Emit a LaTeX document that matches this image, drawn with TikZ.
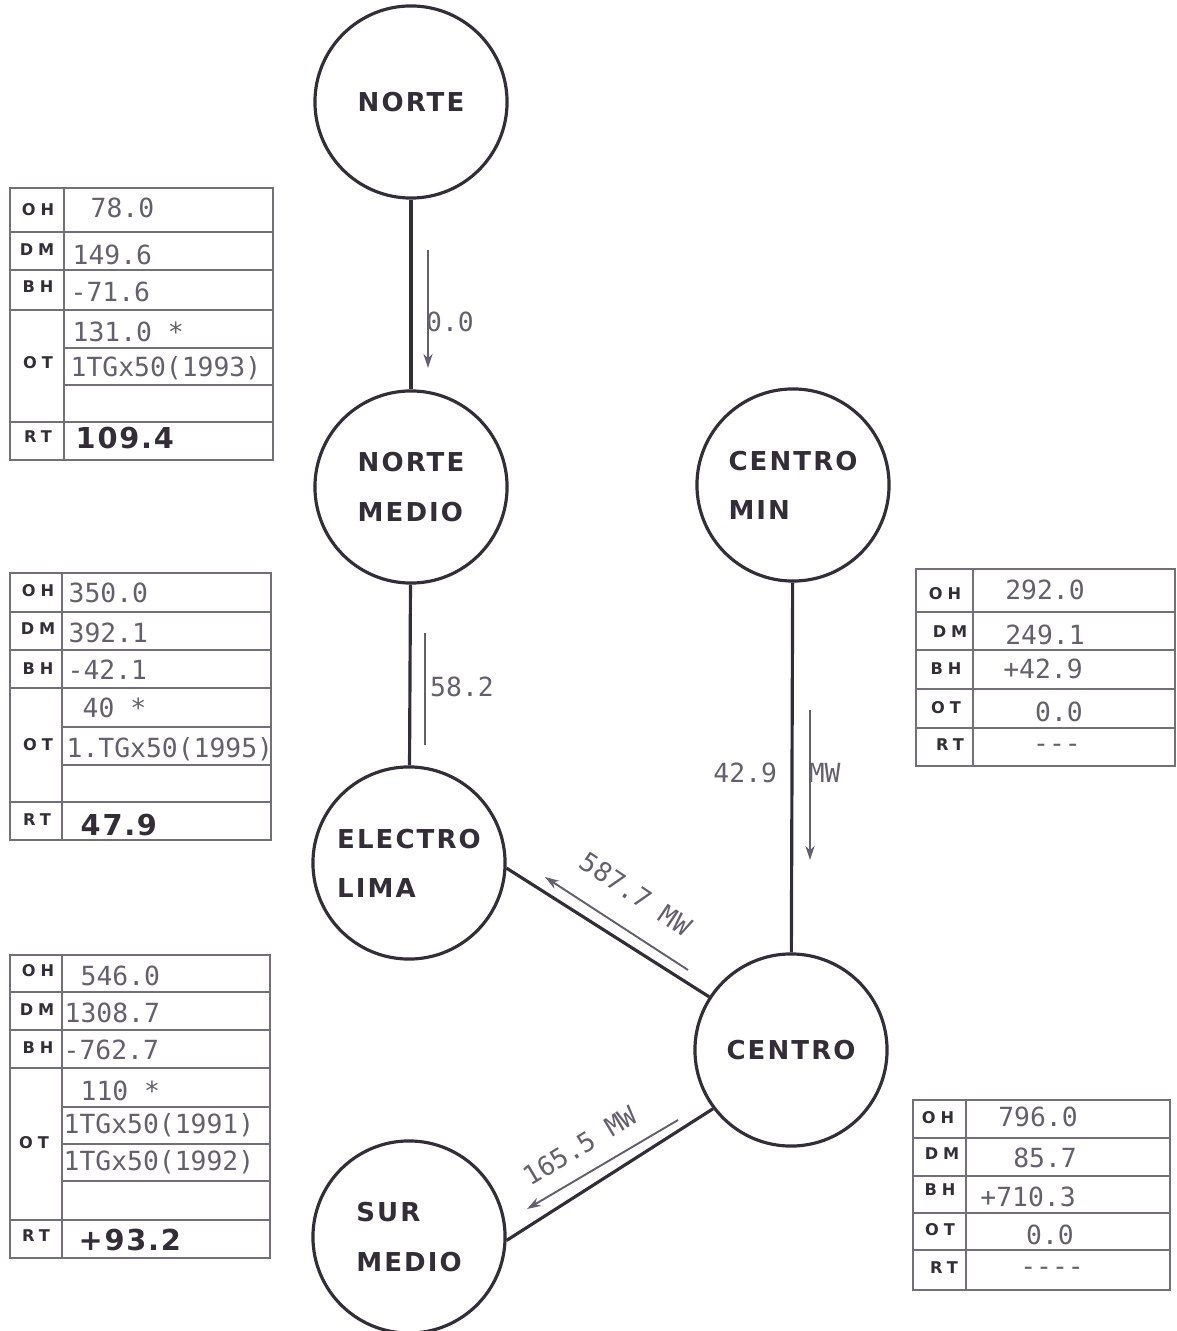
\documentclass[tikz,border=0pt]{standalone}
\usepackage{fontspec}
\usepackage{xcolor}
\usepackage{tikz}
\usetikzlibrary{arrows.meta}

\newfontfamily\numfont{DejaVu Sans Mono}
\newfontfamily\namefont[LetterSpace=8]{DejaVu Sans}
\newfontfamily\tagfont[LetterSpace=30]{DejaVu Sans}
\newfontfamily\rtfont[LetterSpace=6]{DejaVu Sans}

\definecolor{ink}{RGB}{50,45,55}
\definecolor{pen}{RGB}{100,95,108}
\definecolor{rule}{RGB}{115,110,120}

\begin{document}
\begin{tikzpicture}[x=0.01cm, y=-0.01cm,
    zone/.style={circle, draw=ink, line width=0.9pt, minimum size=1.92cm, inner sep=0pt, align=left, text=ink, font=\namefont\bfseries\fontsize{7.4}{14}\selectfont},
    tie/.style={draw=ink, line width=0.9pt},
    flow/.style={draw=pen, line width=0.55pt, -{Stealth[length=4pt,width=2.6pt]}},
    grid/.style={draw=rule, line width=0.7pt},
    val/.style={inner sep=0pt, text=pen, font=\numfont\fontsize{7.5}{9}\selectfont},
    tag/.style={inner sep=0pt, text=ink, font=\tagfont\bfseries\fontsize{4.6}{5}\selectfont},
    rt/.style={inner sep=0pt, text=ink, font=\rtfont\bfseries\fontsize{8.2}{10}\selectfont}]
    \useasboundingbox (0,0) rectangle (1176,1331);

    % zones
    \node (norte) [zone] at (411,102) {NORTE};
    \node (nmedio) [zone] at (411,487) {NORTE\\MEDIO};
    \node (cmin) [zone] at (793,485) {CENTRO\\MIN};
    \node (elima) [zone] at (409,863) {ELECTRO\\LIMA};
    \node (centro) [zone] at (791,1050) {CENTRO};
    \node (sur) [zone] at (409,1237) {SUR\\MEDIO};

    % ties
    \draw[tie] (norte) -- (nmedio);
    \draw[tie] (nmedio) -- (elima);
    \draw[tie] (cmin) -- (centro);
    \draw[tie] (elima.-3) -- (centro.147);
    \draw[tie] (centro.217) -- (sur.-2);

    % flows
    \coordinate (fNa) at (428,250);
    \coordinate (fNb) at (428,368);
    \coordinate (fMa) at (425,633);
    \coordinate (fMb) at (425,745);
    \coordinate (fCa) at (810,710);
    \coordinate (fCb) at (810,860);
    \coordinate (fEa) at (688,970);
    \coordinate (fEb) at (545,877);
    \coordinate (fSa) at (678,1120);
    \coordinate (fSb) at (527,1209);
    \draw[flow] (fNa) -- (fNb);
    \draw[flow, -] (fMa) -- (fMb);
    \draw[flow] (fCa) -- (fCb);
    \draw[flow] (fEa) -- (fEb);
    \draw[flow] (fSa) -- (fSb);
    \node (fNlab) [val] at (450,322) {0.0};
    \node (fMlab) [val] at (462,687) {58.2};
    \node (fClab) [val] at (777,773) {42.9~~MW};
    \node (fElab) [val, rotate=-34] at (636,894) {587.7 MW};
    \node (fSlab) [val, rotate=31] at (580,1146) {165.5 MW};

    % table norte medio
    \draw[grid] (10,188) rectangle (273,460);
    \draw[grid] (64,188) -- (64,460);
    \draw[grid] (10,232) -- (273,232) (10,270) -- (273,270) (10,310) -- (273,310) (10,422) -- (273,422);
    \draw[grid] (64,348) -- (273,348) (64,385) -- (273,385);
    \node (aOH) [tag] at (38,210) {OH};
    \node (aDM) [tag] at (37,250) {DM};
    \node (aBH) [tag] at (38,287) {BH};
    \node (aOT) [tag] at (38,363) {OT};
    \node (aRT) [tag] at (38,437) {RT};
    \node (aOHv) [val, anchor=west] at (90,208) {78.0};
    \node (aDMv) [val, anchor=west] at (72,255) {149.6};
    \node (aBHv) [val, anchor=west] at (70,292) {-71.6};
    \node (aOTv) [val, anchor=west] at (72,332) {131.0 *};
    \node (aOTg) [val, anchor=west] at (70,368) {1TGx50(1993)};
    \node (aRTv) [rt, anchor=west] at (75,438) {109.4};

    % table electro lima
    \draw[grid] (10,573) rectangle (271,840);
    \draw[grid] (62,573) -- (62,840);
    \draw[grid] (10,612) -- (271,612) (10,650) -- (271,650) (10,688) -- (271,688) (10,802) -- (271,802);
    \draw[grid] (62,727) -- (271,727) (62,765) -- (271,765);
    \node (bOH) [tag] at (38,591) {OH};
    \node (bDM) [tag] at (38,629) {DM};
    \node (bBH) [tag] at (38,669) {BH};
    \node (bOT) [tag] at (38,745) {OT};
    \node (bRT) [tag] at (37,820) {RT};
    \node (bOHv) [val, anchor=west] at (68,593) {350.0};
    \node (bDMv) [val, anchor=west] at (68,633) {392.1};
    \node (bBHv) [val, anchor=west] at (67,670) {-42.1};
    \node (bOTv) [val, anchor=west] at (82,708) {40 *};
    \node (bOTg) [val, anchor=west] at (66,749) {1.TGx50(1995)};
    \node (bRTv) [rt, anchor=west] at (80,825) {47.9};

    % table sur medio
    \draw[grid] (10,955) rectangle (270,1258);
    \draw[grid] (62,955) -- (62,1258);
    \draw[grid] (10,992) -- (270,992) (10,1030) -- (270,1030) (10,1068) -- (270,1068) (10,1220) -- (270,1220);
    \draw[grid] (62,1107) -- (270,1107) (62,1144) -- (270,1144) (62,1181) -- (270,1181);
    \node (cOH) [tag] at (38,971) {OH};
    \node (cDM) [tag] at (37,1010) {DM};
    \node (cBH) [tag] at (38,1048) {BH};
    \node (cOT) [tag] at (34,1143) {OT};
    \node (cRT) [tag] at (36,1236) {RT};
    \node (cOHv) [val, anchor=west] at (80,976) {546.0};
    \node (cDMv) [val, anchor=west] at (64,1013) {1308.7};
    \node (cBHv) [val, anchor=west] at (63,1050) {-762.7};
    \node (cOTv) [val, anchor=west] at (80,1091) {110 *};
    \node (cOTg) [val, anchor=west] at (63,1125) {1TGx50(1991)};
    \node (cOTh) [val, anchor=west] at (63,1162) {1TGx50(1992)};
    \node (cRTv) [rt, anchor=west] at (78,1240) {+93.2};

    % table centro min
    \draw[grid] (916,569) rectangle (1175,766);
    \draw[grid] (973,569) -- (973,766);
    \draw[grid] (916,612) -- (1175,612) (916,650) -- (1175,650) (916,689) -- (1175,689) (916,728) -- (1175,728);
    \node (dOH) [tag] at (945,594) {OH};
    \node (dDM) [tag] at (950,632) {DM};
    \node (dBH) [tag] at (946,669) {BH};
    \node (dOT) [tag] at (946,708) {OT};
    \node (dRT) [tag] at (950,745) {RT};
    \node (dOHv) [val] at (1045,590) {292.0};
    \node (dDMv) [val] at (1045,635) {249.1};
    \node (dBHv) [val] at (1043,669) {+42.9};
    \node (dOTv) [val] at (1059,712) {0.0};
    \node (dRTv) [val] at (1057,748) {-{}-{}-};

    % table centro
    \draw[grid] (913,1100) rectangle (1170,1290);
    \draw[grid] (966,1100) -- (966,1290);
    \draw[grid] (913,1138) -- (1170,1138) (913,1176) -- (1170,1176) (913,1213) -- (1170,1213) (913,1250) -- (1170,1250);
    \node (eOH) [tag] at (938,1118) {OH};
    \node (eDM) [tag] at (942,1154) {DM};
    \node (eBH) [tag] at (940,1190) {BH};
    \node (eOT) [tag] at (940,1230) {OT};
    \node (eRT) [tag] at (944,1268) {RT};
    \node (eOHv) [val] at (1038,1117) {796.0};
    \node (eDMv) [val] at (1045,1158) {85.7};
    \node (eBHv) [val] at (1028,1197) {+710.3};
    \node (eOTv) [val] at (1050,1235) {0.0};
    \node (eRTv) [val] at (1052,1271) {-{}-{}-{}-};
\end{tikzpicture}
\end{document}
